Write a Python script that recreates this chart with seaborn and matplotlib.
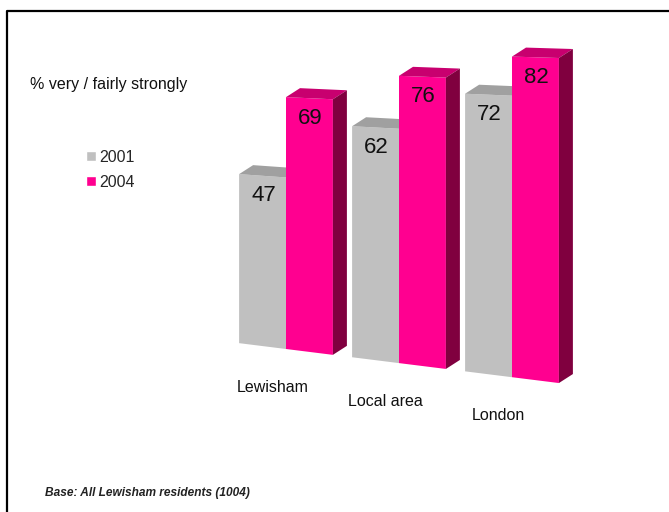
import numpy as np
import pandas as pd
import matplotlib
matplotlib.use('Agg')
import matplotlib.pyplot as plt
import matplotlib.transforms as mtransforms
from matplotlib.patches import Polygon
from matplotlib.lines import Line2D
import seaborn as sns

# Dados do gráfico
areas = ['Lewisham', 'Local area', 'London']
years = ['2001', '2004']
values_2001 = [47, 62, 72]
values_2004 = [69, 76, 82]

front_colors = ['#c0c0c0', '#ff0090']
top_colors = ['#a0a0a0', '#c8006f']
side_color = '#80003f'

W, H = 669, 512


class Perspective(mtransforms.Transform):
    # projeção "3D" simples: categoria x e valor -> pixel (origem em baixo)
    input_dims = 2
    output_dims = 2
    has_inverse = False

    def transform_non_affine(self, values):
        xy = np.asarray(values, dtype=float).reshape(-1, 2)
        x, v = xy[:, 0], xy[:, 1]
        px = 286 + 113 * x
        py = 349 + 14.1 * x - (3.65 + 0.13 * x) * v
        return np.column_stack([px, H - py])


df = pd.DataFrame({
    'area': areas * 2,
    'year': [years[0]] * 3 + [years[1]] * 3,
    'value': values_2001 + values_2004,
})

sns.set_style('white')
plt.rcParams['font.family'] = ['Liberation Sans', 'DejaVu Sans']

fig = plt.figure(figsize=(W / 100, H / 100), dpi=100)
ax = fig.add_axes([0, 0, 1, 1])
sns.barplot(data=df, x='area', y='value', hue='year', palette=front_colors,
            saturation=1, width=0.83, gap=0, ax=ax)

persp = Perspective()
ident = mtransforms.IdentityTransform()
depth = np.array([14.0, 9.0])

for j, container in enumerate(ax.containers):
    for i, bar in enumerate(container):
        x0 = bar.get_x()
        x1 = x0 + bar.get_width()
        h = bar.get_height()
        z = 10 + 3 * i + j
        bar.set_transform(persp)
        bar.set_clip_on(False)
        bar.set_zorder(z)
        bar.set_linewidth(0)
        tl, tr, br = persp.transform(np.array([[x0, h], [x1, h], [x1, 0]]))
        ax.add_patch(Polygon([tl, tr, tr + depth, tl + depth], closed=True,
                             facecolor=top_colors[j], edgecolor='none',
                             transform=ident, clip_on=False, zorder=z))
        if j == 1:
            ax.add_patch(Polygon([tr, br, br + depth, tr + depth], closed=True,
                                 facecolor=side_color, edgecolor='none',
                                 transform=ident, clip_on=False, zorder=z))
        ax.text((tl[0] + tr[0]) / 2 + 1, (tl[1] + tr[1]) / 2 - 20, f'{h:.0f}',
                transform=ident, ha='center', va='center', fontsize=16,
                color='#111111', zorder=z + 0.5)

# rótulos das categorias no "chão"
for i, name in enumerate(areas):
    px, py = persp.transform(np.array([[i - 0.12, 0.0]]))[0]
    ax.text(px, py - 40, name, transform=ident, ha='center', va='center',
            fontsize=11.5, color='#111111')

ax.set_axis_off()

sns.move_legend(ax, 'upper left', bbox_to_anchor=(86 / W, 1 - 150 / H),
                bbox_transform=fig.transFigure, frameon=False, title=None,
                fontsize=11.5, handlelength=0.6, handleheight=0.6,
                handletextpad=0.25, labelspacing=0.62, borderpad=0,
                borderaxespad=0)

fig.text(30 / W, 1 - 85 / H, '% very / fairly strongly', fontsize=11.5,
         va='center', color='#111111')
fig.text(45 / W, 1 - 493 / H, 'Base: All Lewisham residents (1004)',
         fontsize=8.6, fontweight='bold', fontstyle='italic', va='center',
         color='#222222')

# moldura (topo e esquerda)
fig.add_artist(Line2D([7 / W, 7 / W, 1], [0, 1 - 11 / H, 1 - 11 / H],
                      transform=fig.transFigure, color='black', linewidth=1.6))

fig.savefig('out.png', dpi=100)
